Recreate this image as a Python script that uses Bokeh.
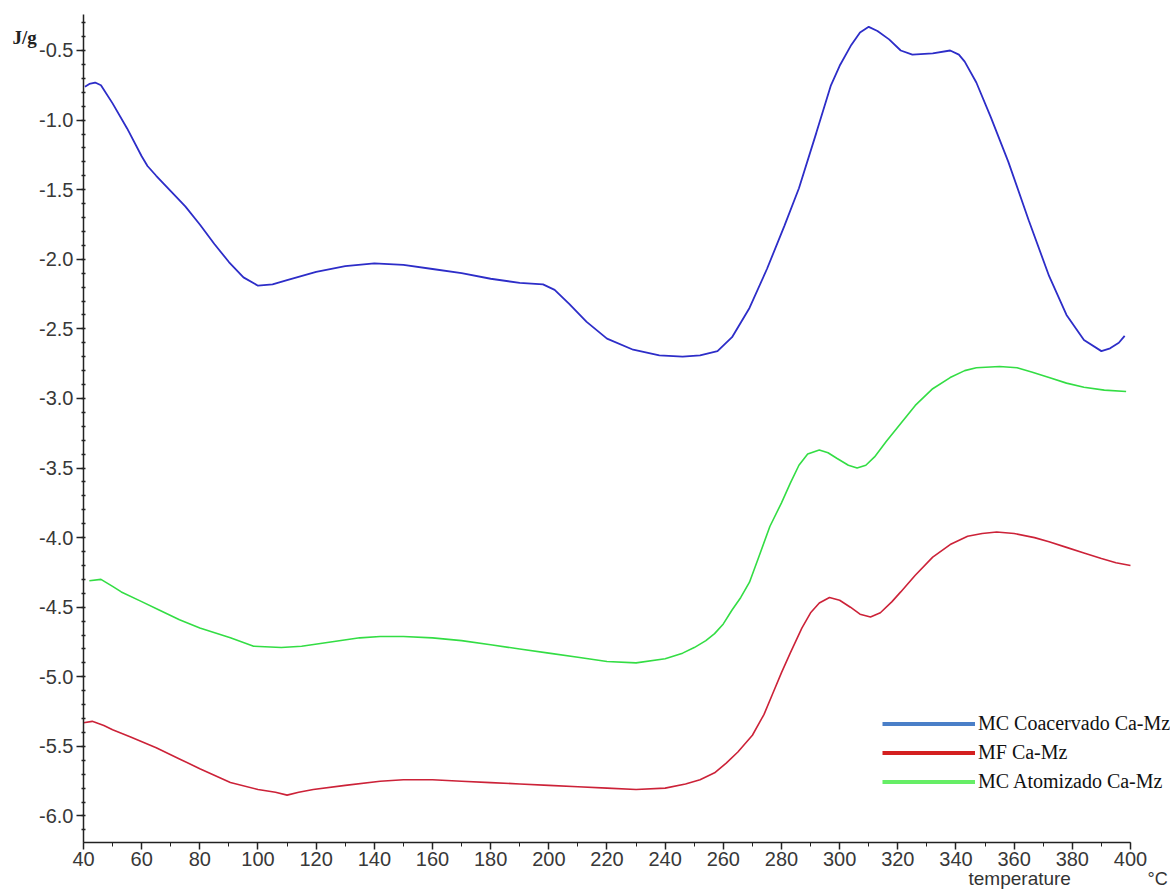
from bokeh.plotting import figure
from bokeh.models import Range1d, SingleIntervalTicker, PrintfTickFormatter, Legend, LegendItem, Label
from bokeh.embed import file_html
from bokeh.resources import INLINE

# ---- data (temperature in °C, heat flow in J/g) ----
blue_t = [40.5, 42, 44, 46, 50, 55, 60, 62, 65, 70, 75, 80, 85, 90, 95, 100, 105, 110, 120, 130, 140,
          150, 160, 170, 180, 190, 198, 202, 207, 213, 220, 229, 238, 246, 252, 258, 263, 269, 275,
          281, 286, 292, 297, 300, 304, 307, 310, 313, 317, 321, 325, 332, 338, 341, 343, 347, 352,
          358, 365, 372, 378, 384, 390, 393, 396, 398]
blue_v = [-0.76, -0.74, -0.73, -0.75, -0.88, -1.06, -1.26, -1.33, -1.40, -1.51, -1.62, -1.75, -1.89,
          -2.02, -2.13, -2.19, -2.18, -2.15, -2.09, -2.05, -2.03, -2.04, -2.07, -2.10, -2.14, -2.17,
          -2.18, -2.22, -2.32, -2.45, -2.57, -2.65, -2.69, -2.70, -2.69, -2.66, -2.56, -2.35, -2.07,
          -1.76, -1.49, -1.09, -0.75, -0.61, -0.46, -0.37, -0.33, -0.36, -0.42, -0.50, -0.53, -0.52,
          -0.50, -0.53, -0.58, -0.73, -0.98, -1.30, -1.72, -2.12, -2.40, -2.58, -2.66, -2.64, -2.60,
          -2.55]

green_t = [42, 46, 50, 53, 60, 66, 73, 80, 90.5, 98.5, 108, 115, 125, 135, 142, 150, 160, 170, 180,
           190, 200, 210, 220, 230, 240, 246, 250, 254, 257, 260, 263, 266, 269, 272, 276, 280, 283,
           286, 289, 293, 296, 299, 303, 306, 309, 312, 316, 321, 326, 332, 338, 343, 347, 355, 361,
           366, 372, 378, 384, 391, 398.5]
green_v = [-4.31, -4.30, -4.35, -4.39, -4.46, -4.52, -4.59, -4.65, -4.72, -4.78, -4.79, -4.78, -4.75,
           -4.72, -4.71, -4.71, -4.72, -4.74, -4.77, -4.80, -4.83, -4.86, -4.89, -4.90, -4.87, -4.83,
           -4.79, -4.74, -4.69, -4.62, -4.52, -4.43, -4.32, -4.15, -3.92, -3.75, -3.61, -3.48, -3.40,
           -3.37, -3.39, -3.43, -3.48, -3.50, -3.48, -3.42, -3.31, -3.18, -3.05, -2.93, -2.85, -2.80,
           -2.78, -2.77, -2.78, -2.81, -2.85, -2.89, -2.92, -2.94, -2.95]

red_t = [40, 43, 47, 50, 56, 65, 73, 80, 90.5, 100, 106, 110, 114, 119, 130, 142, 150, 160, 170, 180,
         190, 200, 210, 220, 230, 240, 247, 252, 257, 261, 265, 270, 274, 277, 280, 283, 287, 290, 293,
         296.5, 300, 303.7, 307, 310.6, 314, 318, 321, 326, 332, 338, 344, 349, 354, 360, 367, 372,
         378, 384, 390, 395, 400]
red_v = [-5.33, -5.32, -5.35, -5.38, -5.43, -5.51, -5.59, -5.66, -5.76, -5.81, -5.83, -5.85, -5.83,
         -5.81, -5.78, -5.75, -5.74, -5.74, -5.75, -5.76, -5.77, -5.78, -5.79, -5.80, -5.81, -5.80,
         -5.77, -5.74, -5.69, -5.62, -5.54, -5.42, -5.27, -5.12, -4.97, -4.83, -4.65, -4.54, -4.47,
         -4.43, -4.45, -4.50, -4.55, -4.57, -4.54, -4.46, -4.39, -4.27, -4.14, -4.05, -3.99, -3.97,
         -3.96, -3.97, -4.00, -4.03, -4.07, -4.11, -4.15, -4.18, -4.20]

series_names = ["MC Coacervado Ca-Mz", "MF Ca-Mz", "MC Atomizado Ca-Mz"]
x_ticks_interval = 20
y_ticks_interval = 0.5

# axis extents (data units)
X_MIN, X_MAX = 40, 400
Y_MIN, Y_MAX = -6.1905, -0.2413

W, H = 1170, 890
p = figure(width=W, height=H, output_backend="svg", toolbar_location=None, title=None,
           x_range=Range1d(11.46, 413.76), y_range=Range1d(-6.5354, -0.1408),
           min_border=0, min_border_left=0, min_border_right=0, min_border_top=0,
           min_border_bottom=0, background_fill_color="white", border_fill_color="white")
p.outline_line_color = None
p.grid.visible = False

p.line(blue_t, blue_v, line_color="#2d2dc8", line_width=1.8)
p.line(green_t, green_v, line_color="#33dd44", line_width=1.6)
p.line(red_t, red_v, line_color="#cc2238", line_width=1.6)

# legend swatches (legend colours differ slightly from curves in the original)
nan = float("nan")
lb = p.line([nan], [nan], line_color="#4a7fc8", line_width=4)
lr = p.line([nan], [nan], line_color="#d42020", line_width=4)
lg = p.line([nan], [nan], line_color="#66ee66", line_width=4)
legend = Legend(items=[LegendItem(label=series_names[0], renderers=[lb]),
                       LegendItem(label=series_names[1], renderers=[lr]),
                       LegendItem(label=series_names[2], renderers=[lg])],
                location=(882, 97), glyph_width=93, glyph_height=21, label_height=21,
                spacing=6, padding=0, margin=0, label_standoff=3,
                border_line_alpha=0, background_fill_alpha=0,
                label_text_font="Liberation Serif", label_text_font_size="20px",
                label_text_color="#111111")
p.add_layout(legend)

# axes drawn at fixed positions inside the canvas
xa = p.xaxis[0]
ya = p.yaxis[0]
xa.fixed_location = Y_MIN
ya.fixed_location = X_MIN
xa.bounds = (X_MIN, X_MAX)
ya.bounds = (Y_MIN, Y_MAX)
xa.ticker = SingleIntervalTicker(interval=x_ticks_interval, num_minor_ticks=2)
ya.ticker = SingleIntervalTicker(interval=y_ticks_interval, num_minor_ticks=5)
ya.formatter = PrintfTickFormatter(format="%.1f")
for ax in (xa, ya):
    ax.axis_line_color = "#222222"
    ax.axis_line_width = 1.5
    ax.major_tick_line_color = "#222222"
    ax.minor_tick_line_color = "#222222"
    ax.major_tick_line_width = 1.5
    ax.major_tick_in = 0
    ax.major_tick_out = 7
    ax.major_label_text_font = "Liberation Sans"
    ax.major_label_text_font_size = "20px"
    ax.major_label_text_color = "#383838"
    ax.major_label_standoff = 3
xa.minor_tick_in = 0
xa.minor_tick_out = 4
ya.minor_tick_in = 2
ya.minor_tick_out = 2
ya.minor_tick_line_width = 1.5

p.add_layout(Label(x=12, y=H - 37, x_units="screen", y_units="screen", text="J/g",
                   text_font="Liberation Serif", text_font_style="bold", text_font_size="19px",
                   text_color="#222222", text_baseline="alphabetic"))
p.add_layout(Label(x=968, y=12, x_units="screen", y_units="screen", text="temperature",
                   text_font="Liberation Sans", text_font_size="19px", text_color="#333333",
                   text_baseline="alphabetic"))
p.add_layout(Label(x=1147, y=12, x_units="screen", y_units="screen", text="°C",
                   text_font="Liberation Sans", text_font_size="18px", text_color="#333333",
                   text_baseline="alphabetic"))

open("out.html", "w").write(file_html(p, INLINE))
